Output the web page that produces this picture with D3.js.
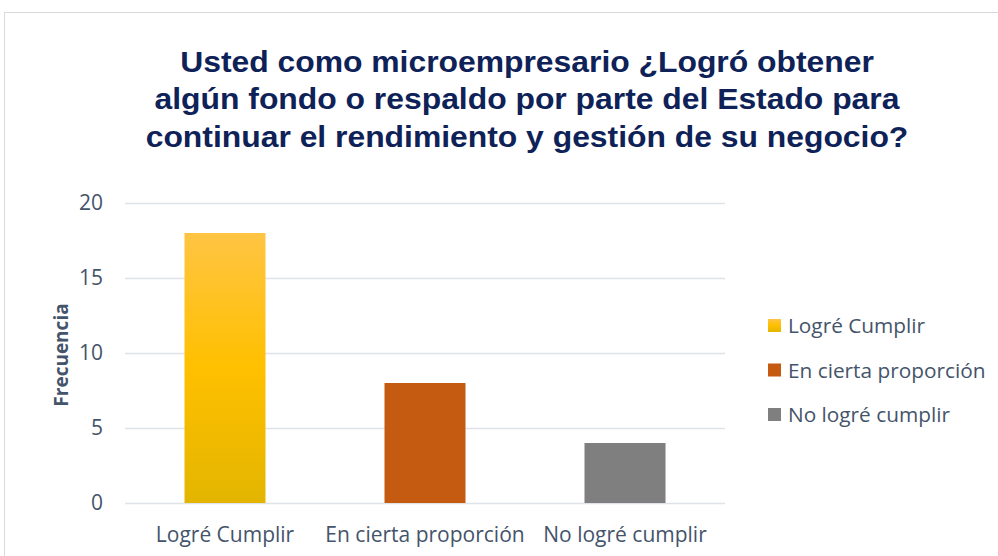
<!DOCTYPE html>
<html>
<head>
<meta charset="utf-8">
<script src="https://cdn.jsdelivr.net/npm/d3@7"></script>
<style>
  body { margin: 0; background: #fff; }
  svg { display: block; }
  .tick text { font-family: "Open Sans", Lato, sans-serif; fill: #44546a; }
</style>
</head>
<body>
<svg id="chart" width="998" height="556"></svg>
<script>
// data
const categories = ["Logré Cumplir", "En cierta proporción", "No logré cumplir"];
const frecuencia = [18, 8, 4];
const yTicks = [0, 5, 10, 15, 20];
const titleLines = [
  "Usted como microempresario ¿Logró obtener",
  "algún fondo o respaldo por parte del Estado para",
  "continuar el rendimiento y gestión de su negocio?"
];
const barColors = ["url(#gradYellow)", "#c55a11", "#7f7f7f"];

const svg = d3.select("#chart");

// frame
svg.append("rect")
  .attr("x", 4.5).attr("y", 12.5)
  .attr("width", 1000).attr("height", 600)
  .attr("fill", "#fff").attr("stroke", "#d9d9d9");

// gradient for first bar
const defs = svg.append("defs");
const grad = defs.append("linearGradient")
  .attr("id", "gradYellow")
  .attr("x1", 0).attr("y1", 0).attr("x2", 0).attr("y2", 1);
grad.append("stop").attr("offset", "0%").attr("stop-color", "#ffc443");
grad.append("stop").attr("offset", "50%").attr("stop-color", "#ffc000");
grad.append("stop").attr("offset", "100%").attr("stop-color", "#e3b500");

// title (slightly stretched horizontally like the original)
const titleX = 527;
svg.append("g")
  .attr("transform", `translate(${titleX},0) scale(1.08,1)`)
  .append("text")
  .attr("y", 72)
  .attr("text-anchor", "middle")
  .attr("font-family", "'Liberation Sans', Arial, sans-serif")
  .attr("font-weight", "bold")
  .attr("font-size", 29.5)
  .attr("fill", "#0e2258")
  .selectAll("tspan")
  .data(titleLines)
  .join("tspan")
  .attr("x", 0)
  .attr("dy", (d, i) => i === 0 ? 0 : 37.5)
  .text(d => d);

const margin = { left: 125, right: 725, top: 203, bottom: 503 };

const x = d3.scaleBand()
  .domain(categories)
  .range([margin.left, margin.right])
  .paddingInner(0.595)
  .paddingOuter(0.2975);

const y = d3.scaleLinear()
  .domain([0, 20])
  .range([margin.bottom, margin.top]);

// gridlines
svg.append("g")
  .selectAll("line")
  .data(yTicks)
  .join("line")
  .attr("x1", margin.left).attr("x2", margin.right)
  .attr("y1", d => y(d) + 0.5).attr("y2", d => y(d) + 0.5)
  .attr("stroke", "#dfe3e8")
  .attr("stroke-width", 1.5);

// y axis
const yAxis = svg.append("g")
  .attr("transform", `translate(${margin.left - 22},0)`)
  .call(d3.axisLeft(y).tickValues(yTicks).tickSize(0).tickPadding(0));
yAxis.select(".domain").remove();
yAxis.selectAll("text").attr("font-size", 21);

// bars
svg.append("g")
  .selectAll("rect")
  .data(frecuencia)
  .join("rect")
  .attr("x", (d, i) => x(categories[i]))
  .attr("y", d => y(d))
  .attr("width", x.bandwidth())
  .attr("height", d => y(0) - y(d))
  .attr("fill", (d, i) => barColors[i]);

// x axis
const xAxis = svg.append("g")
  .attr("transform", `translate(0,${margin.bottom})`)
  .call(d3.axisBottom(x).tickSize(0).tickPadding(24));
xAxis.select(".domain").remove();
xAxis.selectAll("text").attr("font-size", 21);

// y label
svg.append("text")
  .attr("transform", "translate(68,355) rotate(-90)")
  .attr("text-anchor", "middle")
  .attr("font-family", "'Open Sans', Lato, sans-serif")
  .attr("font-weight", "bold")
  .attr("font-size", 19)
  .attr("fill", "#44546a")
  .text("Frecuencia");

// legend
const legend = svg.append("g")
  .selectAll("g")
  .data(categories)
  .join("g")
  .attr("transform", (d, i) => `translate(768,${319 + i * 44.5})`);
legend.append("rect")
  .attr("width", 13).attr("height", 13)
  .attr("fill", (d, i) => barColors[i]);
legend.append("text")
  .attr("x", 20).attr("y", 14)
  .attr("font-family", "'Open Sans', Lato, sans-serif")
  .attr("font-size", 20.8)
  .attr("fill", "#44546a")
  .text(d => d);
</script>
</body>
</html>
